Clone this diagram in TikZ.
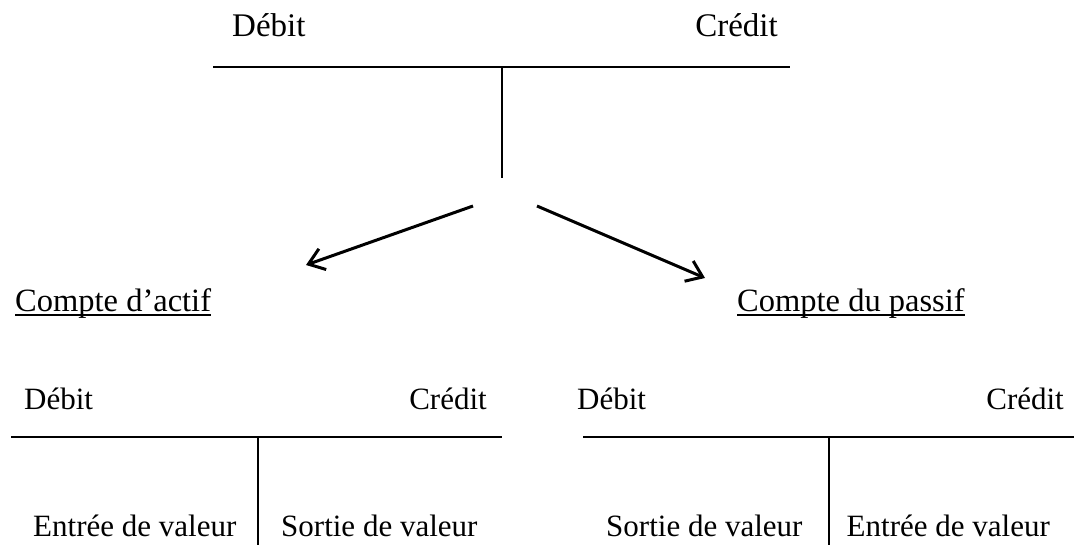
\documentclass[tikz,border=0pt]{standalone}
\usepackage{fontspec}
\setmainfont{Liberation Serif}
\usetikzlibrary{arrows.meta}
\begin{document}
\begin{tikzpicture}[x=1pt,y=-1pt,
  lbl/.style={inner sep=0pt,font=\fontsize{31}{37}\selectfont},
  big/.style={inner sep=0pt,font=\fontsize{33}{39}\selectfont},
  title/.style={inner sep=0pt,font=\fontsize{32.5}{39}\selectfont},
  tline/.style={line width=1.6pt},
  flow/.style={line width=3pt,-{Straight Barb[length=15pt,width=22pt,line width=3pt]}}]
\useasboundingbox (0,0) rectangle (1075,545);

% general T account
\node[big,anchor=base west] (tD) at (232,37) {Débit};
\node[big,anchor=base east] (tC) at (778,37) {Crédit};
\coordinate (tL) at (213,67);
\coordinate (tR) at (790,67);
\coordinate (tM) at (502,67);
\coordinate (tB) at (502,178);
\draw[tline] (tL) -- (tR);
\draw[tline] (tM) -- (tB);

% arrows to the two kinds of accounts
\coordinate (aL0) at (473,206);
\coordinate (aL1) at (306,265);
\coordinate (aR0) at (537,206);
\coordinate (aR1) at (705,278);
\draw[flow] (aL0) -- (aL1);
\draw[flow] (aR0) -- (aR1);

% account titles, underlined
\node[title,anchor=base west] (actif) at (15,311) {Compte d’actif};
\node[title,anchor=base west] (passif) at (737,311) {Compte du passif};
\draw[line width=1.8pt] ([yshift=-4pt]actif.base west) -- ([yshift=-4pt]actif.base east);
\draw[line width=1.8pt] ([yshift=-4pt]passif.base west) -- ([yshift=-4pt]passif.base east);

% asset account
\node[lbl,anchor=base west] (aD) at (24,409) {Débit};
\node[lbl,anchor=base east] (aC) at (487,409) {Crédit};
\coordinate (aHL) at (11,437);
\coordinate (aHR) at (502,437);
\coordinate (aVT) at (258,437);
\coordinate (aVB) at (258,545);
\draw[tline] (aHL) -- (aHR);
\draw[tline] (aVT) -- (aVB);
\node[lbl,anchor=base west] (aIn) at (33,536) {Entrée de valeur};
\node[lbl,anchor=base west] (aOut) at (281,536) {Sortie de valeur};

% liability account
\node[lbl,anchor=base west] (pD) at (577,409) {Débit};
\node[lbl,anchor=base east] (pC) at (1064,409) {Crédit};
\coordinate (pHL) at (583,437);
\coordinate (pHR) at (1074,437);
\coordinate (pVT) at (829,437);
\coordinate (pVB) at (829,545);
\draw[tline] (pHL) -- (pHR);
\draw[tline] (pVT) -- (pVB);
\node[lbl,anchor=base west] (pOut) at (606,536) {Sortie de valeur};
\node[lbl,anchor=base east] (pIn) at (1050,536) {Entrée de valeur};
\end{tikzpicture}
\end{document}
